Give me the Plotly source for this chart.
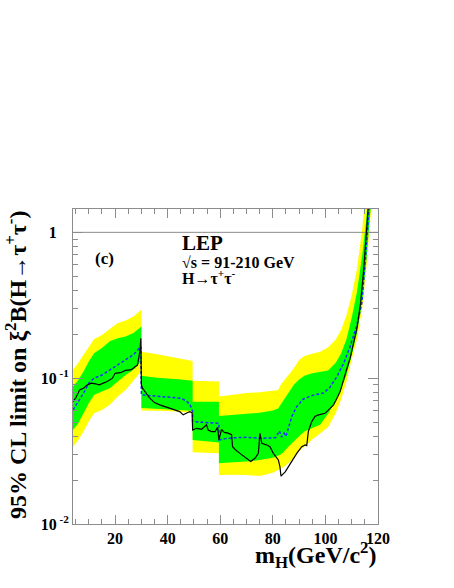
import plotly.graph_objects as go

# ---------------- data ----------------
band_mass = [4, 6, 8, 10, 12, 15, 18, 21, 24, 27, 30,
             30, 35, 40, 45, 49.5,
             49.5, 52, 55, 59.5,
             59.5, 62, 65, 70, 75, 80, 82, 83, 84, 86, 88, 90, 92, 95, 98, 101, 104, 106, 108, 110, 112, 114,
             115.5, 116.5, 117.5, 118.5]
yellow_hi = [0.114, 0.127, 0.145, 0.165, 0.185, 0.198, 0.217, 0.239, 0.249, 0.265, 0.295,
             0.152, 0.147, 0.141, 0.136, 0.131,
             0.096, 0.096, 0.0955, 0.095,
             0.0748, 0.0755, 0.077, 0.079, 0.080, 0.082, 0.083, 0.090, 0.095, 0.105, 0.117, 0.133, 0.142, 0.147,
             0.152, 0.162, 0.185, 0.215, 0.27, 0.37, 0.56, 1.05, 2.0, 3.5, 6.0, 10.0]
yellow_lo = [0.0339, 0.0377, 0.0430, 0.0504, 0.0575, 0.0606, 0.0656, 0.0748, 0.0831, 0.0973, 0.112,
             0.0600, 0.0598, 0.0595, 0.0590, 0.0580,
             0.0310, 0.0310, 0.0308, 0.0305,
             0.0217, 0.0217, 0.0218, 0.0217, 0.0213, 0.0225, 0.0235, 0.024, 0.0245, 0.0262, 0.0285, 0.0315,
             0.034, 0.038, 0.042, 0.046, 0.058, 0.072, 0.095, 0.135, 0.185, 0.30, 0.55, 0.90, 1.5, 2.5]
green_hi = [0.0876, 0.0973, 0.111, 0.130, 0.148, 0.161, 0.179, 0.188, 0.193, 0.204, 0.226,
            0.104, 0.101, 0.100, 0.098, 0.096,
            0.069, 0.069, 0.069, 0.069,
            0.055, 0.0555, 0.056, 0.0575, 0.058, 0.060, 0.062, 0.066, 0.070, 0.079, 0.090, 0.098, 0.104, 0.108,
            0.110, 0.113, 0.128, 0.148, 0.185, 0.26, 0.39, 0.70, 1.2, 2.0, 3.5, 6.0]
green_lo = [0.0441, 0.0491, 0.0575, 0.0673, 0.0768, 0.0809, 0.0853, 0.0948, 0.105, 0.114, 0.131,
            0.0625, 0.0620, 0.0612, 0.0605, 0.0598,
            0.0377, 0.0375, 0.0370, 0.0362,
            0.0261, 0.0263, 0.0265, 0.0268, 0.0275, 0.0285, 0.0295, 0.030, 0.031, 0.034, 0.037, 0.040, 0.043,
            0.0455, 0.048, 0.057, 0.070, 0.085, 0.105, 0.145, 0.205, 0.34, 0.62, 1.0, 1.7, 2.8]

exp_mass = [4, 6, 8, 10, 12, 15, 18, 21, 24, 27, 29.8,
            30, 35, 40, 45, 47, 48.5, 49.5,
            49.5, 52, 55, 59.5,
            59.5, 62, 65, 70, 75, 78, 81, 82.5, 83.3, 84.3, 85, 86, 87.2, 89, 91.6, 95.4, 99.3, 101.8, 104.3,
            106.9, 109.4, 112, 113.9, 115.2, 116.4, 117.2]
exp_limit = [0.0606, 0.0691, 0.0788, 0.0924, 0.100, 0.105, 0.114, 0.123, 0.134, 0.145, 0.165,
             0.0768, 0.0755, 0.0745, 0.0729, 0.0700, 0.0660, 0.059,
             0.0504, 0.0500, 0.0495, 0.049,
             0.0377, 0.0385, 0.039, 0.0393, 0.0387, 0.0387, 0.039, 0.0435, 0.0395, 0.042, 0.040, 0.046, 0.0545,
             0.0635, 0.072, 0.0765, 0.079, 0.087, 0.102, 0.126, 0.165, 0.232, 0.33, 0.65, 1.3, 2.0]

obs_mass = [4, 5, 6.5, 8, 9.5, 11, 12.5, 14, 15.5, 17, 19, 20, 22, 24, 26, 27.5, 28.5, 29, 29.5, 29.8,
            30, 30.5, 31, 31.5, 32, 33.2, 35, 37, 40.8, 44.6, 45.9, 47.2, 48.4, 49.3,
            49.5, 51, 52.9, 54.8, 55.4, 56.7, 58, 59,
            59.5, 60.5, 61.5, 63, 64.3, 64.7, 66, 67.5, 70, 71.6, 73.2, 74.5, 75.1, 75.8, 77.7, 78.9, 80.2,
            82.1, 82.7, 83.1, 84.7, 86.6, 89.1, 91, 92.3, 92.9, 93.5, 94.8, 96.1, 97.4, 99.9, 101.2, 103.1,
            104.4, 105.6, 108.2, 109.4, 112, 113.3, 114.5, 115.8, 116.8]
obs_limit = [0.0691, 0.0729, 0.0831, 0.0853, 0.0900, 0.0924, 0.0915, 0.0900, 0.0924, 0.0948, 0.100, 0.108,
             0.109, 0.113, 0.114, 0.119, 0.123, 0.137, 0.157, 0.188,
             0.090, 0.085, 0.083, 0.081, 0.078, 0.0729, 0.068, 0.0656, 0.0622, 0.059, 0.056, 0.0575, 0.059, 0.058,
             0.0441, 0.0453, 0.0446, 0.0478, 0.0441, 0.0430, 0.0430, 0.046,
             0.0377, 0.0446, 0.0425, 0.042, 0.041, 0.0339, 0.032, 0.0305, 0.0282, 0.0268, 0.0282, 0.0305, 0.0419,
             0.0358, 0.0348, 0.0339, 0.0305, 0.0275, 0.0247, 0.0213, 0.0228, 0.0261, 0.0305, 0.0339, 0.0348,
             0.0345, 0.043, 0.0504, 0.0548, 0.056, 0.0575, 0.0606, 0.0656, 0.0729, 0.0809, 0.117, 0.137, 0.22,
             0.319, 0.54, 1.02, 2.0]

x_ticks = [20, 40, 60, 80, 100, 120]
x_minor = [5, 10, 15, 25, 30, 35, 45, 50, 55, 65, 70, 75, 85, 90, 95, 105, 110, 115]
y_ticks = [0.01, 0.1, 1]
y_ticklabels = ["10<sup> -2</sup>", "10<sup> -1</sup>", "1\u00a0\u00a0\u00a0"]
y_minor = [0.02, 0.03, 0.04, 0.05, 0.06, 0.07, 0.08, 0.09, 0.2, 0.3, 0.4, 0.5, 0.6, 0.7, 0.8, 0.9]
x_range = [4, 120]
ref_level = 1.0

FONT = "Liberation Serif"
GRAY = "#8c8c8c"

fig = go.Figure()


def band(lo, hi, color):
    fig.add_trace(go.Scatter(
        x=band_mass + band_mass[::-1], y=hi + lo[::-1],
        fill="toself", fillcolor=color, line=dict(width=0), mode="lines",
        hoverinfo="skip", showlegend=False))


band(yellow_lo, yellow_hi, "#ffff00")
band(green_lo, green_hi, "#00ff00")

fig.add_trace(go.Scatter(x=x_range, y=[ref_level, ref_level], mode="lines",
                         line=dict(color=GRAY, width=1), showlegend=False, hoverinfo="skip"))

fig.add_trace(go.Scatter(x=exp_mass, y=exp_limit, mode="lines",
                         line=dict(color="#1a33ff", width=1.5, dash="3px,2px"), showlegend=False))
fig.add_trace(go.Scatter(x=obs_mass, y=obs_limit, mode="lines",
                         line=dict(color="black", width=1.2), showlegend=False))

tickfont = dict(family=FONT, size=16, color="black", weight="bold")

fig.update_xaxes(range=x_range, showgrid=False, zeroline=False, automargin=False,
                 showline=True, linecolor=GRAY, linewidth=1, mirror="ticks",
                 ticks="inside", ticklen=9, tickcolor=GRAY, tickwidth=1,
                 tickvals=x_ticks, ticktext=[str(v) for v in x_ticks], tickfont=tickfont,
                 minor=dict(tickvals=x_minor, ticks="inside", ticklen=5, tickcolor=GRAY, showgrid=False))
fig.update_yaxes(type="log", range=[-2, 0.16], showgrid=False, zeroline=False, automargin=False,
                 showline=True, linecolor=GRAY, linewidth=1, mirror="ticks",
                 ticks="inside", ticklen=10, tickcolor=GRAY, tickwidth=1,
                 tickvals=y_ticks, ticktext=y_ticklabels, tickfont=tickfont,
                 minor=dict(tickvals=y_minor, ticks="inside", ticklen=5, tickcolor=GRAY, showgrid=False))

bold = lambda s: dict(family=FONT, size=s, color="black", weight="bold")

annotations = [
    dict(text="(c)", x=0.066, y=0.844, xanchor="left", yanchor="middle", font=bold(17)),
    dict(text="LEP", x=0.351, y=0.892, xanchor="left", yanchor="middle", font=bold(21)),
    dict(text="\u221as = 91-210 GeV", x=0.351, y=0.829, xanchor="left", yanchor="middle", font=bold(16)),
    dict(text="H\u2192\u03c4<sup>+</sup>\u03c4<sup>-</sup>", x=0.351, y=0.784, xanchor="left",
         yanchor="middle", font=bold(16)),
    dict(text="m<sub>H</sub>(GeV/c<sup>2</sup>)", x=1.0, y=-0.098, xanchor="right", yanchor="middle",
         font=bold(24)),
    dict(text="95% CL limit on \u03be<sup>2</sup>B(H\u2192\u03c4<sup>+</sup>\u03c4<sup>-</sup>)",
         x=-0.187, y=1.0, xanchor="center", yanchor="top", textangle=-90, font=bold(24)),
]
for a in annotations:
    a.update(xref="paper", yref="paper", showarrow=False)

fig.update_layout(width=454, height=588, margin=dict(l=73, r=76, t=209, b=64, autoexpand=False),
                  paper_bgcolor="white", plot_bgcolor="white", showlegend=False,
                  annotations=annotations)

fig.write_html("out.html", config={"displayModeBar": False},
               post_script="document.body.style.margin='0px';document.body.style.padding='0px';")
